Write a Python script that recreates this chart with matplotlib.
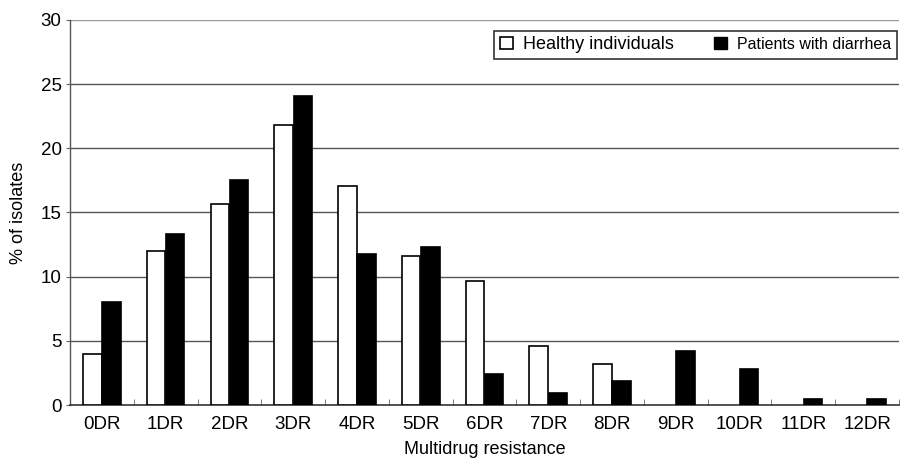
import matplotlib
matplotlib.use("Agg")
import matplotlib.pyplot as plt
import numpy as np
from matplotlib.patches import Patch

categories = ["0DR", "1DR", "2DR", "3DR", "4DR", "5DR", "6DR", "7DR", "8DR", "9DR", "10DR", "11DR", "12DR"]
healthy = [4.0, 12.0, 15.7, 21.8, 17.1, 11.6, 9.7, 4.6, 3.2, 0, 0, 0, 0]
diarrhea = [8.0, 13.3, 17.5, 24.1, 11.8, 12.3, 2.4, 0.9, 1.9, 4.2, 2.8, 0.5, 0.5]
yticks = [0, 5, 10, 15, 20, 25, 30]

plt.rcParams['font.family'] = ['Liberation Sans', 'DejaVu Sans']

fig = plt.figure(figsize=(9.01, 4.59), dpi=100)
ax = fig.add_axes([70/901, 1-405/459, 829/901, 385/459])

x = np.arange(len(categories))
w = 0.29
lw_h = [1.2 if v > 0 else 0 for v in healthy]
lw_d = [1.2 if v > 0 else 0 for v in diarrhea]
ax.bar(x - w/2 - 0.005, healthy, width=w, color="white", edgecolor="black", linewidth=lw_h, zorder=3)
ax.bar(x + w/2 + 0.005, diarrhea, width=w, color="black", edgecolor="black", linewidth=lw_d, zorder=3)

ax.set_xlim(-0.5, len(categories) - 0.5)
ax.set_ylim(0, 30)
ax.set_yticks(yticks)
ax.set_yticklabels([str(t) for t in yticks], fontsize=13.5)
ax.set_xticks(x)
ax.set_xticklabels(categories, fontsize=13.5)
ax.tick_params(axis='x', length=0, pad=8)
ax.set_xticks(np.arange(len(categories)) + 0.5, minor=True)
ax.tick_params(axis='x', which='minor', direction='in', length=4, color='#666666')
ax.tick_params(axis='y', length=3, color='#666666', pad=3)

for t in yticks[1:]:
    ax.axhline(t, color='#999999' if t == 30 else '#555555', linewidth=1.0, zorder=1)

for s in ['top', 'right']:
    ax.spines[s].set_visible(False)
ax.spines['left'].set_color('#555555')
ax.spines['bottom'].set_color('#333333')
ax.spines['left'].set_linewidth(1.0)
ax.spines['bottom'].set_linewidth(1.2)

ax.set_ylabel("% of isolates", fontsize=13, labelpad=10)
ax.set_xlabel("Multidrug resistance", fontsize=13, labelpad=6)

handles = [Patch(facecolor='white', edgecolor='black', linewidth=1.2),
           Patch(facecolor='black', edgecolor='black')]
leg = ax.legend(handles, ["Healthy individuals", "Patients with diarrhea"], ncol=2,
                loc='upper right', bbox_to_anchor=(1 - 2/829, (405-31)/385), borderaxespad=0,
                frameon=True, fancybox=False,
                edgecolor='black', fontsize=13, handlelength=0.7, handleheight=0.7,
                handletextpad=0.6, columnspacing=2.2, borderpad=0.3)
leg.get_frame().set_linewidth(1.2)
leg.get_texts()[1].set_fontsize(11.5)

fig.savefig("out.png", dpi=100)
